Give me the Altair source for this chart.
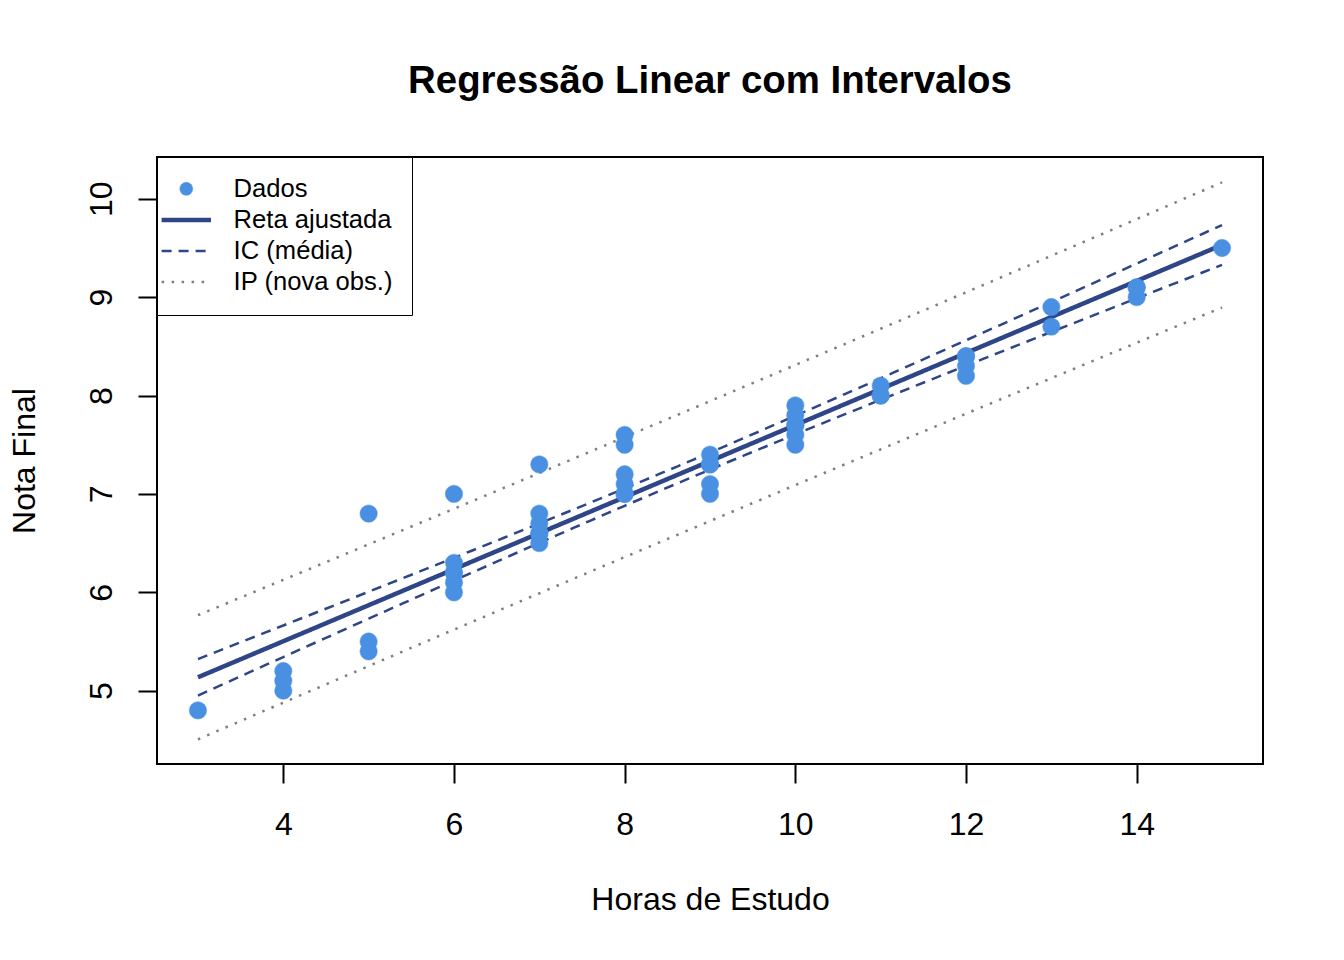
import altair as alt
import numpy as np
import pandas as pd

# ---- data (some points overlap exactly) ----
horas = [3, 4, 4, 4, 5, 5, 5, 6, 6, 6, 6, 6, 6, 7, 7, 7, 7, 7, 7,
         8, 8, 8, 8, 8, 8, 9, 9, 9, 9, 9, 10, 10, 10, 10, 10, 10,
         11, 11, 11, 12, 12, 12, 12, 13, 13, 14, 14, 14, 15]
notas = [4.8, 5.0, 5.1, 5.2, 5.4, 5.5, 6.8, 6.0, 6.1, 6.2, 6.2, 6.3, 7.0,
         6.5, 6.6, 6.6, 6.7, 6.8, 7.3,
         7.0, 7.0, 7.1, 7.2, 7.5, 7.6, 7.0, 7.1, 7.3, 7.3, 7.4,
         7.5, 7.6, 7.7, 7.7, 7.8, 7.9,
         8.0, 8.0, 8.1, 8.2, 8.3, 8.4, 8.4, 8.7, 8.9, 9.0, 9.1, 9.1, 9.5]

series = ["Dados", "Reta ajustada", "IC (média)", "IP (nova obs.)"]
x_ticks = [4, 6, 8, 10, 12, 14]
y_ticks = [5, 6, 7, 8, 9, 10]
x_domain = [2.52, 15.48]
y_domain = [4.255, 10.425]

# ---- linear regression with confidence / prediction intervals ----
X = np.array(horas, dtype=float)
Y = np.array(notas, dtype=float)
n = len(X)
slope, intercept = np.polyfit(X, Y, 1)
resid = Y - (intercept + slope * X)
s = np.sqrt(np.sum(resid ** 2) / (n - 2))
xbar = X.mean()
sxx = np.sum((X - xbar) ** 2)
t975 = 2.0117  # t quantile 0.975, df = 47

grid = np.linspace(X.min(), X.max(), 61)
fit = intercept + slope * grid
se_m = s * np.sqrt(1 / n + (grid - xbar) ** 2 / sxx)
se_p = s * np.sqrt(1 + 1 / n + (grid - xbar) ** 2 / sxx)

rows = []
def add(vals, serie, grp):
    for gx, gy in zip(grid, vals):
        rows.append({"x": gx, "y": gy, "serie": serie, "grp": grp})

add(fit, "Reta ajustada", "fit")
add(fit + t975 * se_m, "IC (média)", "ic_up")
add(fit - t975 * se_m, "IC (média)", "ic_lo")
add(fit + t975 * se_p, "IP (nova obs.)", "ip_up")
add(fit - t975 * se_p, "IP (nova obs.)", "ip_lo")
lines_df = pd.DataFrame(rows)
pts_df = pd.DataFrame({"x": horas, "y": notas, "serie": "Dados"})

FONT = "Liberation Sans"
blue = "#4A90E2"
navy = "#2E4587"
gray = "#7F7F7F"
line_path = "M-3.8,0L3.8,0"

legend = alt.Legend(
    title=None, orient="top-left", offset=0,
    strokeColor="black", fillColor="white", padding=19, cornerRadius=0,
    labelFont=FONT, labelFontSize=25.6, labelColor="black",
    symbolSize=169, symbolOffset=-2.5, labelOffset=34.5, rowPadding=4.1,
)

stroke_scale = alt.Scale(domain=series, range=[blue, navy, navy, gray])
fill_scale = alt.Scale(domain=series, range=[blue, "transparent", "transparent", "transparent"])
shape_scale = alt.Scale(domain=series, range=["circle", line_path, line_path, line_path])
dash_scale = alt.Scale(domain=series, range=[[1, 0], [1, 0], [10, 7], [2.5, 7.5]])
width_scale = alt.Scale(type="ordinal", domain=series, range=[0.5, 4.5, 2.5, 2.5])

xenc = alt.X("x:Q", scale=alt.Scale(domain=x_domain, nice=False, zero=False),
             axis=alt.Axis(values=x_ticks, title="Horas de Estudo", grid=False, domain=False,
                           tickSize=19, tickWidth=2, tickColor="black",
                           labelFont=FONT, labelFontSize=32, labelColor="black",
                           labelPadding=26, labelBaseline="top",
                           titleFont=FONT, titleFontSize=32, titleFontWeight="normal",
                           titleColor="black", titleBaseline="alphabetic",
                           titleX=553, titleY=145, titleAnchor="middle"))
yenc = alt.Y("y:Q", scale=alt.Scale(domain=y_domain, nice=False, zero=False),
             axis=alt.Axis(values=y_ticks, title="Nota Final", grid=False, domain=False,
                           tickSize=19, tickWidth=2, tickColor="black",
                           labelFont=FONT, labelFontSize=32, labelColor="black",
                           labelAngle=-90, labelAlign="center", labelBaseline="alphabetic",
                           labelPadding=27,
                           titleFont=FONT, titleFontSize=32, titleFontWeight="normal",
                           titleColor="black", titleAngle=-90, titleBaseline="alphabetic",
                           titleX=-123, titleY=303.5, titleAnchor="middle"))

lines = alt.Chart(lines_df).mark_line(clip=True).encode(
    x=xenc, y=yenc,
    stroke=alt.Stroke("serie:N", scale=stroke_scale, legend=legend),
    strokeDash=alt.StrokeDash("serie:N", scale=dash_scale, legend=legend),
    strokeWidth=alt.StrokeWidth("serie:N", scale=width_scale, legend=legend),
    detail="grp:N",
)

points = alt.Chart(pts_df).mark_point(size=300, opacity=1).encode(
    x=xenc, y=yenc,
    fill=alt.Fill("serie:N", scale=fill_scale, legend=legend),
    stroke=alt.Stroke("serie:N", scale=stroke_scale, legend=legend),
    shape=alt.Shape("serie:N", scale=shape_scale, legend=legend),
    strokeDash=alt.StrokeDash("serie:N", scale=dash_scale, legend=legend),
    strokeWidth=alt.StrokeWidth("serie:N", scale=width_scale, legend=legend),
)

chart = alt.layer(lines, points).properties(
    width=1106, height=607,
    autosize=alt.AutoSizeParams(type="none"),
    padding={"left": 149, "top": 149, "right": 73, "bottom": 180},
    title=alt.Title("Regressão Linear com Intervalos", font=FONT, fontSize=38.4,
                    fontWeight="bold", color="black", anchor="middle",
                    baseline="alphabetic", offset=25),
).configure(background="white").configure_view(stroke="black", strokeWidth=2)

chart.save("out.html", embed_options={"renderer": "svg", "actions": False})
